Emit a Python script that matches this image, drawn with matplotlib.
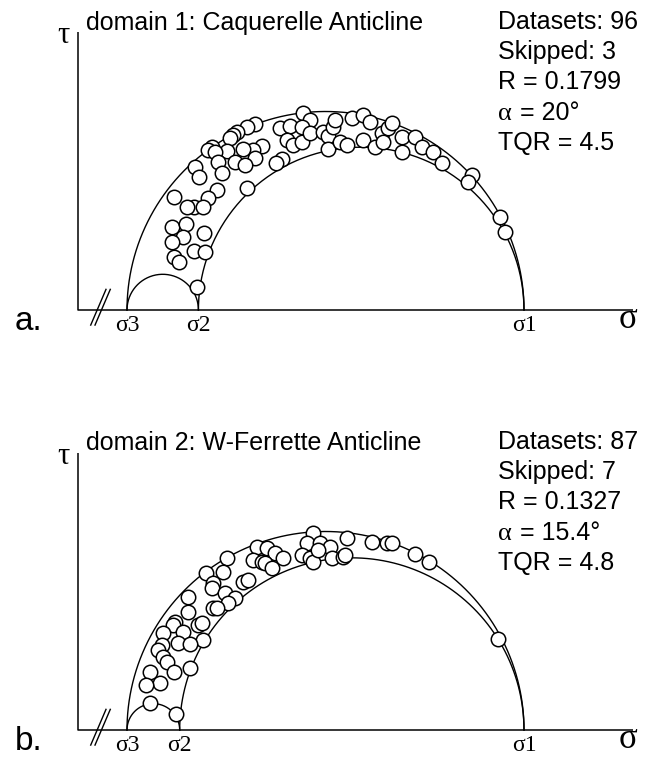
import matplotlib
matplotlib.use('Agg')
from matplotlib import pyplot as plt
import numpy as np

plt.rcParams['font.family'] = ['Liberation Sans', 'DejaVu Sans']
serif = ['Liberation Serif', 'DejaVu Serif']

# ---- domain 1 (panel a) ----
title_a = 'domain 1: Caquerelle Anticline'
R_a = 0.1799
stats_a = ['Datasets: 96', 'Skipped: 3', 'R = 0.1799', 'α = 20°', 'TQR = 4.5']
# normalised sigma (s3=0, s1=1) and tau
sig_a = [0.444, 0.461, 0.322, 0.303, 0.385, 0.411, 0.440, 0.276, 0.268, 0.259,
         0.402, 0.419, 0.440, 0.461, 0.494, 0.507, 0.520, 0.507, 0.524, 0.339,
         0.318, 0.293, 0.322, 0.251, 0.213, 0.205, 0.222, 0.272, 0.297, 0.230,
         0.239, 0.171, 0.181, 0.390, 0.375, 0.303, 0.226, 0.205, 0.119, 0.170,
         0.150, 0.192, 0.114, 0.149, 0.140, 0.114, 0.195, 0.170, 0.196, 0.119,
         0.132, 0.176, 0.566, 0.595, 0.612, 0.537, 0.553, 0.595, 0.625, 0.642,
         0.658, 0.667, 0.646, 0.692, 0.725, 0.692, 0.742, 0.772, 0.793, 0.868,
         0.860, 0.940, 0.952]
tau_a = [0.495, 0.479, 0.469, 0.462, 0.458, 0.463, 0.462, 0.449, 0.441, 0.432,
         0.428, 0.416, 0.424, 0.445, 0.449, 0.438, 0.462, 0.405, 0.479, 0.413,
         0.403, 0.405, 0.382, 0.401, 0.411, 0.403, 0.399, 0.374, 0.365, 0.374,
         0.346, 0.361, 0.336, 0.380, 0.370, 0.307, 0.302, 0.281, 0.284, 0.260,
         0.259, 0.260, 0.210, 0.217, 0.183, 0.172, 0.193, 0.149, 0.147, 0.134,
         0.120, 0.059, 0.483, 0.491, 0.474, 0.424, 0.416, 0.428, 0.411, 0.445,
         0.458, 0.470, 0.424, 0.437, 0.437, 0.399, 0.411, 0.399, 0.370, 0.340,
         0.322, 0.235, 0.196]

# ---- domain 2 (panel b) ----
title_b = 'domain 2: W-Ferrette Anticline'
R_b = 0.1327
stats_b = ['Datasets: 87', 'Skipped: 7', 'R = 0.1327', 'α = 15.4°', 'TQR = 4.8']
sig_b = [0.468, 0.453, 0.440, 0.461, 0.327, 0.352, 0.373, 0.394, 0.318, 0.339,
         0.348, 0.364, 0.251, 0.243, 0.199, 0.217, 0.213, 0.293, 0.306, 0.247,
         0.272, 0.255, 0.154, 0.154, 0.217, 0.226, 0.121, 0.117, 0.180, 0.188,
         0.142, 0.091, 0.192, 0.087, 0.129, 0.159, 0.079, 0.091, 0.100, 0.159,
         0.119, 0.058, 0.083, 0.048, 0.058, 0.123, 0.486, 0.511, 0.553, 0.616,
         0.654, 0.667, 0.725, 0.761, 0.935, 0.469, 0.516, 0.545, 0.549, 0.482]
tau_b = [0.497, 0.470, 0.441, 0.432, 0.460, 0.458, 0.445, 0.432, 0.428, 0.424,
         0.420, 0.407, 0.432, 0.399, 0.395, 0.370, 0.357, 0.374, 0.378, 0.344,
         0.332, 0.321, 0.336, 0.298, 0.307, 0.307, 0.273, 0.264, 0.264, 0.269,
         0.248, 0.244, 0.227, 0.214, 0.218, 0.217, 0.202, 0.185, 0.172, 0.155,
         0.147, 0.147, 0.118, 0.113, 0.069, 0.040, 0.470, 0.462, 0.483, 0.474,
         0.472, 0.470, 0.443, 0.424, 0.228, 0.424, 0.432, 0.437, 0.441, 0.453]

S = 397.0  # pixels per stress unit


def draw_panel(ax, letter, title, R, stats, sig, tau, ytop):
    ax.axis('off')
    x0, x1 = -49 / S, 506 / S
    # axes
    ax.plot([x0, x0, x1], [ytop, 0, 0], color='black', lw=1.1, solid_capstyle='butt')
    # axis break
    for dx in (0, 0.0108):
        ax.plot([-0.0914 + dx, -0.0529 + dx], [-0.038, 0.052], color='black', lw=1.0)
    # mohr circles
    th = np.linspace(0, np.pi, 300)
    for a, b in [(0, R), (0, 1), (R, 1)]:
        c, r = (a + b) / 2, (b - a) / 2
        ax.plot(c + r * np.cos(th), r * np.sin(th), color='black', lw=1.0)
    ax.plot(sig, tau, 'o', ms=10.4, mfc='white', mec='black', mew=1.1, zorder=3)
    # labels
    for x, lab in [(0, 'σ3'), (R, 'σ2'), (1, 'σ1')]:
        ax.text(x, -0.052, lab, family=serif, fontsize=17, ha='center', va='baseline')
    ax.text(1.261, -0.046, 'σ', family=serif, fontsize=25, ha='center', va='baseline')
    ax.text(-0.16, ytop - 0.028, 'τ', family=serif, fontsize=22, ha='center', va='baseline')
    ax.text(-0.282, -0.05, letter, fontsize=24, ha='left', va='baseline')
    ax.text(-0.103, 0.705, title, fontsize=18, ha='left', va='baseline')
    for i, line in enumerate(stats):
        y = 0.708 - i * 0.0762
        if line.startswith('α'):
            ax.text(0.9345, y, 'α', family=serif, fontsize=19, ha='left', va='baseline')
            ax.text(0.990, y, line[2:], fontsize=18, ha='left', va='baseline')
        else:
            ax.text(0.9345, y, line, fontsize=18, ha='left', va='baseline')


fig = plt.figure(figsize=(6.57, 7.58), dpi=100)
ax_a = fig.add_axes([0, 0.5, 1, 0.5])
ax_a.set_xlim(-127 / S, 530 / S)
ax_a.set_ylim(-69 / S, 310 / S)
draw_panel(ax_a, 'a.', title_a, R_a, stats_a, sig_a, tau_a, 0.700)

ax_b = fig.add_axes([0, 0, 1, 0.5])
ax_b.set_xlim(-127 / S, 530 / S)
ax_b.set_ylim(-28 / S, 351 / S)
draw_panel(ax_b, 'b.', title_b, R_b, stats_b, sig_b, tau_b, 0.698)

fig.savefig('out.png', dpi=100)
